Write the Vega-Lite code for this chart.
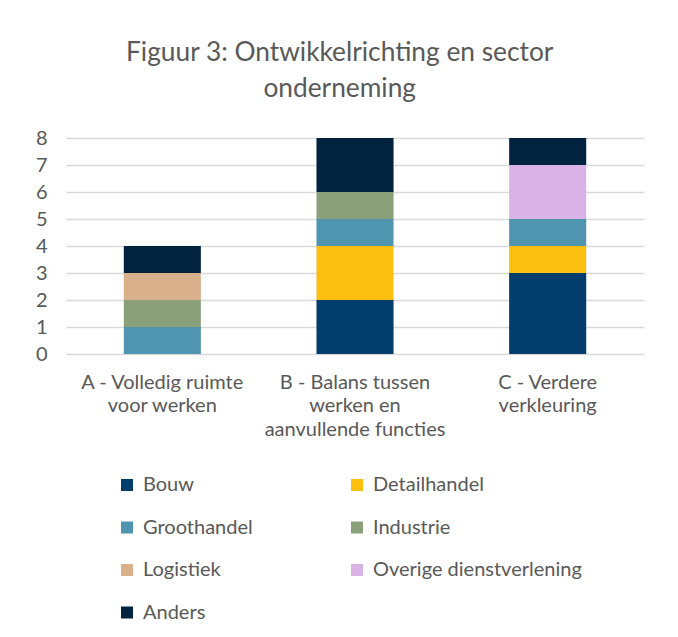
{
  "$schema": "https://vega.github.io/schema/vega-lite/v6.json",
  "width": 578,
  "height": 216,
  "autosize": {"type": "none"},
  "padding": {"left": 66, "top": 138, "right": 34, "bottom": 283},
  "background": "white",
  "title": {
    "text": ["Figuur 3: Ontwikkelrichting en sector", "onderneming"],
    "font": "Lato",
    "fontSize": 26.3,
    "fontWeight": "normal",
    "color": "#595959",
    "lineHeight": 36,
    "anchor": "middle",
    "frame": "bounds",
    "offset": 26
  },
  "data": {
    "values": [
      {"richting": "A - Volledig ruimte|voor werken", "sector": "Groothandel", "aantal": 1},
      {"richting": "A - Volledig ruimte|voor werken", "sector": "Industrie", "aantal": 1},
      {"richting": "A - Volledig ruimte|voor werken", "sector": "Logistiek", "aantal": 1},
      {"richting": "A - Volledig ruimte|voor werken", "sector": "Anders", "aantal": 1},
      {"richting": "B - Balans tussen|werken en|aanvullende functies", "sector": "Bouw", "aantal": 2},
      {"richting": "B - Balans tussen|werken en|aanvullende functies", "sector": "Detailhandel", "aantal": 2},
      {"richting": "B - Balans tussen|werken en|aanvullende functies", "sector": "Groothandel", "aantal": 1},
      {"richting": "B - Balans tussen|werken en|aanvullende functies", "sector": "Industrie", "aantal": 1},
      {"richting": "B - Balans tussen|werken en|aanvullende functies", "sector": "Anders", "aantal": 2},
      {"richting": "C - Verdere|verkleuring", "sector": "Bouw", "aantal": 3},
      {"richting": "C - Verdere|verkleuring", "sector": "Detailhandel", "aantal": 1},
      {"richting": "C - Verdere|verkleuring", "sector": "Groothandel", "aantal": 1},
      {"richting": "C - Verdere|verkleuring", "sector": "Overige dienstverlening", "aantal": 2},
      {"richting": "C - Verdere|verkleuring", "sector": "Anders", "aantal": 1}
    ]
  },
  "transform": [
    {"calculate": "indexof(['Bouw', 'Detailhandel', 'Groothandel', 'Industrie', 'Logistiek', 'Overige dienstverlening', 'Anders'], datum.sector)", "as": "volgorde"}
  ],
  "mark": {"type": "bar"},
  "encoding": {
    "x": {
      "field": "richting",
      "type": "nominal",
      "sort": null,
      "scale": {"paddingInner": 0.6, "paddingOuter": 0.3},
      "axis": {
        "title": null,
        "labelAngle": 0,
        "labelExpr": "split(datum.label, '|')",
        "labelFont": "Lato",
        "labelFontSize": 20,
        "labelColor": "#595959",
        "labelLineHeight": 23.5,
        "labelPadding": 18,
        "labelBaseline": "top",
        "ticks": false,
        "domain": false,
        "labelLimit": 300
      }
    },
    "y": {
      "field": "aantal",
      "type": "quantitative",
      "aggregate": "sum",
      "stack": "zero",
      "scale": {"domain": [0, 8], "nice": false},
      "axis": {
        "title": null,
        "values": [0, 1, 2, 3, 4, 5, 6, 7, 8],
        "labelOverlap": false,
        "labelFont": "Lato",
        "labelFontSize": 20,
        "labelColor": "#595959",
        "labelPadding": 19,
        "ticks": false,
        "domain": false,
        "gridColor": "#D9D9D9",
        "gridWidth": 1.5
      }
    },
    "color": {
      "field": "sector",
      "type": "nominal",
      "sort": ["Bouw", "Detailhandel", "Groothandel", "Industrie", "Logistiek", "Overige dienstverlening", "Anders"],
      "scale": {
        "domain": ["Bouw", "Detailhandel", "Groothandel", "Industrie", "Logistiek", "Overige dienstverlening", "Anders"],
        "range": ["#023D6B", "#FBBF10", "#5095B0", "#8AA07B", "#D9B08C", "#D9B3E6", "#02233F"]
      },
      "legend": {
        "title": null,
        "orient": "none",
        "legendX": 51,
        "legendY": 337,
        "columns": 2,
        "direction": "horizontal",
        "symbolType": "square",
        "symbolSize": 144,
        "symbolStrokeWidth": 0,
        "labelFont": "Lato",
        "labelFontSize": 20,
        "labelColor": "#595959",
        "labelOffset": 6,
        "rowPadding": 22.5,
        "columnPadding": 94,
        "labelLimit": 300
      }
    },
    "order": {"field": "volgorde", "type": "quantitative", "sort": "ascending"}
  },
  "config": {
    "view": {"stroke": null}
  }
}
